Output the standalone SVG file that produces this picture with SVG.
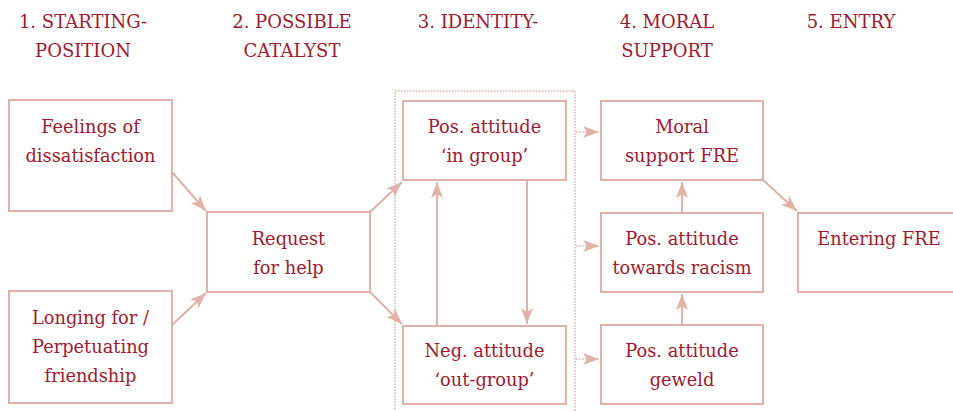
<svg xmlns="http://www.w3.org/2000/svg" width="953" height="411" viewBox="0 0 953 411">
<defs>
<style>
.box{fill:#ffffff;stroke:#deb2a9;stroke-width:2}
.t{font-family:"DejaVu Serif","Liberation Serif",serif;font-size:17.8px;fill:#9a1b30;text-anchor:middle}
.h{font-family:"DejaVu Serif","Liberation Serif",serif;font-size:18px;fill:#9a1b30;text-anchor:middle}
.c{fill:none;stroke:#deb2a9;stroke-width:2}
.d{fill:none;stroke:#deb2a9;stroke-width:1.5;stroke-dasharray:1.5 1.5}
</style>
<marker id="ah" markerUnits="userSpaceOnUse" markerWidth="16" markerHeight="12" refX="16" refY="6" orient="auto" viewBox="0 0 16 12">
<path d="M0,0 L16,6 L0,12 L4,6 z" fill="#deb2a9"/>
</marker>
</defs>
<rect width="953" height="411" fill="#ffffff"/>
<g id="headers">
<text class="h" x="83" y="28">1. STARTING-</text>
<text class="h" x="83" y="57">POSITION</text>
<text class="h" x="292" y="28">2. POSSIBLE</text>
<text class="h" x="292" y="57">CATALYST</text>
<text class="h" x="478" y="28">3. IDENTITY-</text>
<text class="h" x="667" y="28">4. MORAL</text>
<text class="h" x="667" y="57">SUPPORT</text>
<text class="h" x="851" y="28">5. ENTRY</text>
</g>
<g id="identity-frame">
<path class="d" d="M395,415 V91 H575 V415"/>
</g>
<g id="connectors">
<line class="c" x1="172" y1="172" x2="206" y2="211" marker-end="url(#ah)"/>
<line class="c" x1="172" y1="325" x2="206" y2="293" marker-end="url(#ah)"/>
<line class="c" x1="370" y1="212" x2="402" y2="182" marker-end="url(#ah)"/>
<line class="c" x1="370" y1="292" x2="402" y2="324" marker-end="url(#ah)"/>
<line class="c" x1="437" y1="325" x2="437" y2="182" marker-end="url(#ah)"/>
<line class="c" x1="527" y1="181" x2="527" y2="324" marker-end="url(#ah)"/>
<line class="c" x1="682" y1="213" x2="682" y2="182" marker-end="url(#ah)"/>
<line class="c" x1="682" y1="325" x2="682" y2="294" marker-end="url(#ah)"/>
<line class="c" x1="763" y1="180" x2="797" y2="211" marker-end="url(#ah)"/>
<line class="d" x1="576" y1="132" x2="599" y2="132" marker-end="url(#ah)"/>
<line class="d" x1="576" y1="246" x2="599" y2="246" marker-end="url(#ah)"/>
<line class="d" x1="576" y1="359" x2="599" y2="359" marker-end="url(#ah)"/>
</g>
<g id="feelings">
<rect class="box" x="9" y="100" width="163" height="111"/>
<text class="t" x="90.5" y="133">Feelings of</text>
<text class="t" x="90.5" y="162">dissatisfaction</text>
</g>
<g id="longing">
<rect class="box" x="9" y="291" width="163" height="112"/>
<text class="t" x="90.5" y="324">Longing for /</text>
<text class="t" x="90.5" y="353">Perpetuating</text>
<text class="t" x="90.5" y="382">friendship</text>
</g>
<g id="request">
<rect class="box" x="207" y="212" width="163" height="80"/>
<text class="t" x="288.5" y="245">Request</text>
<text class="t" x="288.5" y="274">for help</text>
</g>
<g id="pos-ingroup">
<rect class="box" x="403" y="101" width="163" height="79"/>
<text class="t" x="484.5" y="133">Pos. attitude</text>
<text class="t" x="484.5" y="162">‘in group’</text>
</g>
<g id="neg-outgroup">
<rect class="box" x="403" y="326" width="163" height="78"/>
<text class="t" x="484.5" y="357">Neg. attitude</text>
<text class="t" x="484.5" y="386">‘out-group’</text>
</g>
<g id="moral-support">
<rect class="box" x="601" y="101" width="162" height="79"/>
<text class="t" x="682" y="133">Moral</text>
<text class="t" x="682" y="162">support FRE</text>
</g>
<g id="pos-racism">
<rect class="box" x="601" y="213" width="162" height="79"/>
<text class="t" x="682" y="245">Pos. attitude</text>
<text class="t" x="682" y="274">towards racism</text>
</g>
<g id="pos-geweld">
<rect class="box" x="601" y="325" width="162" height="79"/>
<text class="t" x="682" y="357">Pos. attitude</text>
<text class="t" x="682" y="386">geweld</text>
</g>
<g id="entering">
<rect class="box" x="798" y="213" width="163" height="79"/>
<text class="t" x="879" y="245">Entering FRE</text>
</g>
</svg>
